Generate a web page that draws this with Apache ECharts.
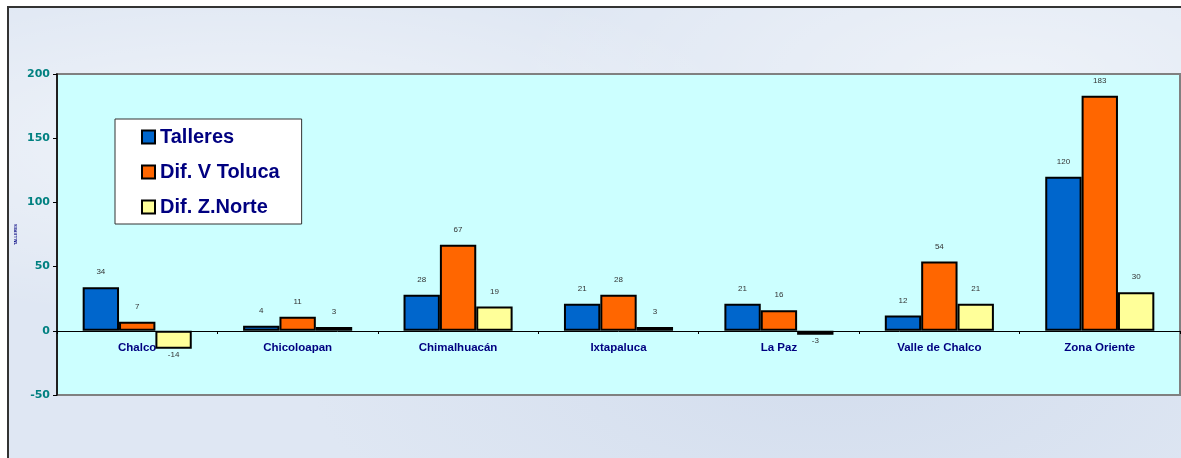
<!DOCTYPE html>
<html>
<head>
<meta charset="utf-8">
<script src="https://cdn.jsdelivr.net/npm/echarts@6/dist/echarts.min.js"></script>
<style>
  html, body { margin: 0; padding: 0; background: #ffffff; }
  #frame {
    position: absolute; left: 7px; top: 6px; width: 1174px; height: 452px;
    border-left: 2px solid #333; border-top: 2px solid #333;
    background-color: #dfe7f3;
    background-image:
      radial-gradient(ellipse at 20% 30%, rgba(255,255,255,0.55) 0, rgba(255,255,255,0) 40%),
      radial-gradient(ellipse at 70% 80%, rgba(200,212,232,0.5) 0, rgba(200,212,232,0) 45%),
      radial-gradient(ellipse at 85% 15%, rgba(255,255,255,0.45) 0, rgba(255,255,255,0) 35%);
  }
  #chart { position: absolute; left: 0; top: 0; width: 1181px; height: 458px; }
</style>
</head>
<body>
<div id="frame"></div>
<div id="chart"></div>
<script>
const categories = ['Chalco', 'Chicoloapan', 'Chimalhuacán', 'Ixtapaluca', 'La Paz', 'Valle de Chalco', 'Zona Oriente'];
const talleres = [34, 4, 28, 21, 21, 12, 120];
const difVToluca = [7, 11, 67, 28, 16, 54, 183];
const difZNorte = [-14, 3, 19, 3, -3, 21, 30];
const seriesNames = ['Talleres', 'Dif. V Toluca', 'Dif. Z.Norte'];
const seriesColors = ['#0066CC', '#FF6600', '#FFFF99'];
const yTicks = { min: -50, max: 200, interval: 50 };

const FONT = 'Arial, "Liberation Sans", sans-serif';

function toData(arr) {
  return arr.map(v => v < 0
    ? { value: v, label: { position: 'bottom', distance: 2 } }
    : { value: v });
}

function makeSeries(name, arr, color) {
  return {
    name: name,
    type: 'bar',
    data: toData(arr),
    barGap: '0%',
    barCategoryGap: '32%',
    itemStyle: { color: color, borderColor: '#000', borderWidth: 2 },
    label: {
      show: true, position: 'top', distance: 11,
      fontSize: 8, color: '#333', fontFamily: FONT
    },
    emphasis: { disabled: true },
    animation: false
  };
}

const chart = echarts.init(document.getElementById('chart'), null, { renderer: 'canvas' });
chart.setOption({
  backgroundColor: 'transparent',
  animation: false,
  grid: {
    left: 57, right: 1, top: 74, bottom: 63,
    show: true, backgroundColor: '#CCFFFF',
    borderColor: '#808080', borderWidth: 2
  },
  legend: {
    data: seriesNames,
    orient: 'vertical',
    left: 115, top: 119,
    padding: [8, 22, 7, 26],
    backgroundColor: '#ffffff',
    borderColor: '#333', borderWidth: 1,
    itemWidth: 13, itemHeight: 13, itemGap: 15,
    icon: 'rect',
    textStyle: { fontSize: 20, fontWeight: 'bold', color: '#000080', fontFamily: FONT, lineHeight: 20 }
  },
  xAxis: {
    type: 'category',
    data: categories,
    position: 'bottom',
    offset: -64,
    axisLine: { show: true, onZero: false, lineStyle: { color: '#000', width: 1 } },
    axisTick: { show: true, length: 3, lineStyle: { color: '#000' } },
    axisLabel: { margin: 11, fontSize: 11.5, fontWeight: 'bold', color: '#000080', fontFamily: FONT, interval: 0 },
    splitLine: { show: false }
  },
  yAxis: {
    type: 'value',
    min: yTicks.min, max: yTicks.max, interval: yTicks.interval,
    name: 'TALLERES',
    nameLocation: 'middle',
    nameRotate: 90,
    nameGap: 39,
    nameMoveOverlap: false,
    nameTextStyle: { fontSize: 4, fontWeight: 'bold', color: '#000080', fontFamily: FONT },
    axisLine: { show: true, lineStyle: { color: '#000', width: 1.5 } },
    axisTick: { show: true, length: 4, lineStyle: { color: '#000' } },
    axisLabel: { margin: 7, fontSize: 11, fontWeight: 'bold', color: '#008080', fontFamily: '"DejaVu Sans", sans-serif' },
    splitLine: { show: false }
  },
  series: [
    makeSeries(seriesNames[0], talleres, seriesColors[0]),
    makeSeries(seriesNames[1], difVToluca, seriesColors[1]),
    makeSeries(seriesNames[2], difZNorte, seriesColors[2])
  ]
});
</script>
</body>
</html>
